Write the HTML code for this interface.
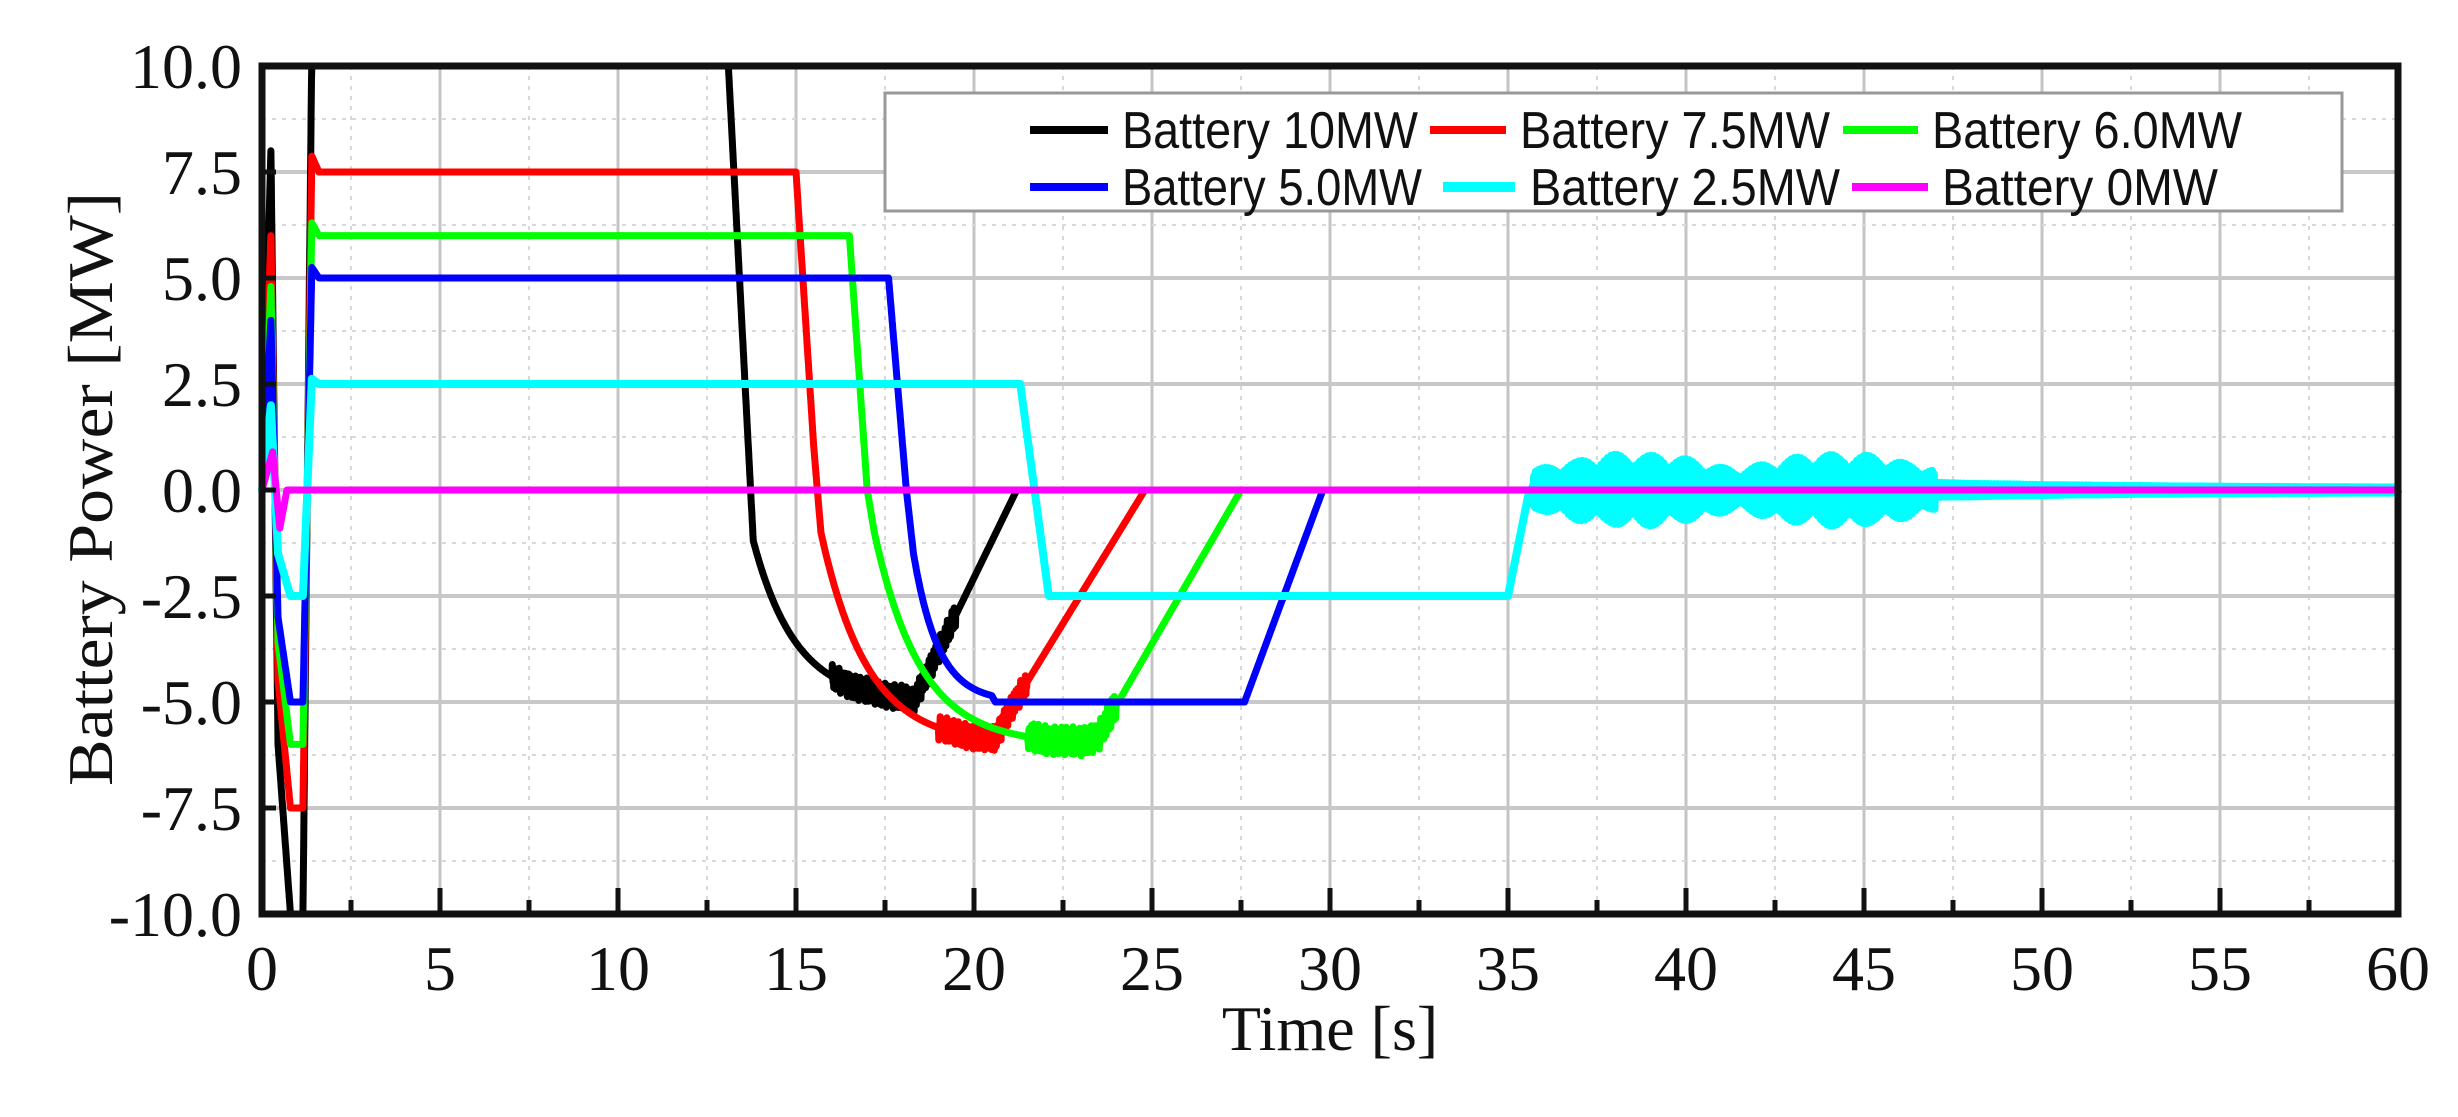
<!DOCTYPE html>
<html><head><meta charset="utf-8"><style>
html,body{margin:0;padding:0;background:#fff;}
svg{display:block;}
.tk{font-family:"Liberation Serif",serif;font-size:64px;fill:#111;}
.lg{font-family:"Liberation Sans",sans-serif;font-size:52px;fill:#111;}
</style></head><body>
<svg id="s" width="2458" height="1117" viewBox="0 0 2458 1117" xmlns="http://www.w3.org/2000/svg">
<rect width="2458" height="1117" fill="#fff"/>
<g id="grid"></g>
<g id="series" fill="none" stroke-linejoin="round" stroke-linecap="round"></g>
<rect x="262" y="66" width="2136" height="848" fill="none" stroke="#111" stroke-width="7"/>
<g id="ticks"></g>
<g id="legend">
<rect x="885" y="93" width="1457" height="118" fill="#fff" stroke="#999" stroke-width="3"/>
<line x1="1030" y1="130" x2="1108" y2="130" stroke="#000" stroke-width="8"/><text class="lg" x="1122" y="148" textLength="296" lengthAdjust="spacingAndGlyphs">Battery 10MW</text>
<line x1="1430" y1="130" x2="1506" y2="130" stroke="#f00" stroke-width="8"/><text class="lg" x="1520" y="148" textLength="310" lengthAdjust="spacingAndGlyphs">Battery 7.5MW</text>
<line x1="1843" y1="130" x2="1918" y2="130" stroke="#0f0" stroke-width="8"/><text class="lg" x="1932" y="148" textLength="310" lengthAdjust="spacingAndGlyphs">Battery 6.0MW</text>
<line x1="1030" y1="187" x2="1108" y2="187" stroke="#00f" stroke-width="8"/><text class="lg" x="1122" y="205" textLength="300" lengthAdjust="spacingAndGlyphs">Battery 5.0MW</text>
<line x1="1443" y1="187" x2="1515" y2="187" stroke="#0ff" stroke-width="10"/><text class="lg" x="1530" y="205" textLength="310" lengthAdjust="spacingAndGlyphs">Battery 2.5MW</text>
<line x1="1852" y1="187" x2="1928" y2="187" stroke="#f0f" stroke-width="8"/><text class="lg" x="1942" y="205" textLength="276" lengthAdjust="spacingAndGlyphs">Battery 0MW</text>
</g>
<text class="tk" x="1330" y="1050" text-anchor="middle" font-size="84">Time [s]</text>
<text class="tk" transform="translate(112,489) rotate(-90)" text-anchor="middle" font-size="72" textLength="594" lengthAdjust="spacingAndGlyphs">Battery Power [MW]</text>
</svg>
<script>
var L=262,R=2398,T=66,B=914;
function X(t){return L+(R-L)*t/60;}
function Y(p){return T+(B-T)*(10-p)/20;}
var NS="http://www.w3.org/2000/svg";
function el(par,tag,at,txt){var e=document.createElementNS(NS,tag);for(var k in at)e.setAttribute(k,at[k]);if(txt!==undefined)e.textContent=txt;document.getElementById(par).appendChild(e);return e;}
for(var i=1;i<24;i++){var t=i*2.5;var maj=(i%2==0);
 el('grid','line',{x1:X(t),x2:X(t),y1:T,y2:B,stroke:maj?'#c4c4c4':'#d8d8d8','stroke-width':maj?3:2,'stroke-dasharray':maj?'':'4,6'});}
for(var j=1;j<16;j++){var p=10-j*1.25;var maj=(j%2==0);
 el('grid','line',{x1:L,x2:R,y1:Y(p),y2:Y(p),stroke:maj?'#c8c8c8':'#d8d8d8','stroke-width':maj?4:2,'stroke-dasharray':maj?'':'4,6'});}
for(var i=0;i<=24;i++){var t=i*2.5;var maj=(i%2==0);
 el('ticks','line',{x1:X(t),x2:X(t),y1:B,y2:B-(maj?26:14),stroke:'#111','stroke-width':5});
 if(maj)el('ticks','text',{'class':'tk',x:X(t),y:990,'text-anchor':'middle'},String(t));}
var yl=['10.0','7.5','5.0','2.5','0.0','-2.5','-5.0','-7.5','-10.0'];
for(var j=0;j<=8;j++){var p=10-j*2.5;
 el('ticks','line',{x1:L,x2:L+14,y1:Y(p),y2:Y(p),stroke:'#111','stroke-width':5});
 el('ticks','text',{'class':'tk',x:242,y:Y(p)+22,'text-anchor':'end'},yl[j]);}
function lerp(pts,t){for(var i=0;i<pts.length-1;i++){if(t>=pts[i][0]&&t<=pts[i+1][0]){var a=pts[i],b=pts[i+1];return a[1]+(b[1]-a[1])*(t-a[0])/(b[0]-a[0]);}}return pts[pts.length-1][1];}
function noise(t,s){return Math.sin(t*97.3+s)*0.6+Math.sin(t*233.7+2*s)*0.4;}
function series(col,pts,w,nz){var d='';var N=6000;
 for(var k=0;k<=N;k++){var t=60*k/N;var p=lerp(pts,t);if(nz)p+=nz(t);p=Math.max(-10,Math.min(10,p));
  d+=(k?'L':'M')+X(t).toFixed(1)+' '+Y(p).toFixed(1);}
 el('series','path',{d:d,stroke:col,'stroke-width':w});}
function exp(t0,t1,p0,p1,tau){var a=[];for(var t=t0;t<=t1+1e-9;t+=0.1)a.push([t,p1+(p0-p1)*Math.exp(-(t-t0)/tau)]);return a;}
function tr(P){return [[0,0],[0.25,P*0.8],[0.45,-P*0.6],[0.8,-P],[1.15,-P],[1.4,P*1.05],[1.6,P],[1.7,P]];}
var k=tr(10).concat([[13.1,10],[13.6,2]],exp(13.8,18,-1.2,-5,1.2),[[18.3,-5],[21.2,0],[60,0]]);
var r=tr(7.5).concat([[15.0,7.5],[15.5,1]],exp(15.7,20.6,-1,-6,1.3),[[21,-5.2],[24.8,0],[60,0]]);
var g=tr(6).concat([[16.5,6],[17.0,0]],exp(17.2,23,-1,-6,1.3),[[23.5,-5.8],[27.5,0],[60,0]]);
var b=tr(5).concat([[17.6,5],[18.1,0]],exp(18.3,20.5,-1.5,-5,0.7),[[20.6,-5],[27.6,-5],[29.8,0],[60,0]]);
var c=tr(2.5).concat([[21.3,2.5],[22.1,-2.5],[35.0,-2.5],[35.6,0],[60,0]]);
var m=[[0,0],[0.3,0.9],[0.5,-0.9],[0.7,0],[60,0]];
series('#000',k,7,function(t){return (t>16&&t<19.5)?0.3*noise(t,1):0;});
series('#f00',r,7,function(t){return (t>19&&t<21.5)?0.3*noise(t,2):0;});
series('#0f0',g,7,function(t){return (t>21.5&&t<24)?0.35*noise(t,3):0;});
series('#00f',b,7);
series('#0ff',c,8,function(t){if(t<35.7)return 0;var e;
 if(t<47)e=(0.45+0.4*Math.abs(Math.sin((t-35.7)*0.55)))*(0.6+0.4*Math.abs(Math.sin(t*3.1)));else e=0.12*Math.exp(-(t-47)/6)+0.05;
 return e*Math.sin(t*140);});
series('#f0f',m,7);
</script>
</body></html>
